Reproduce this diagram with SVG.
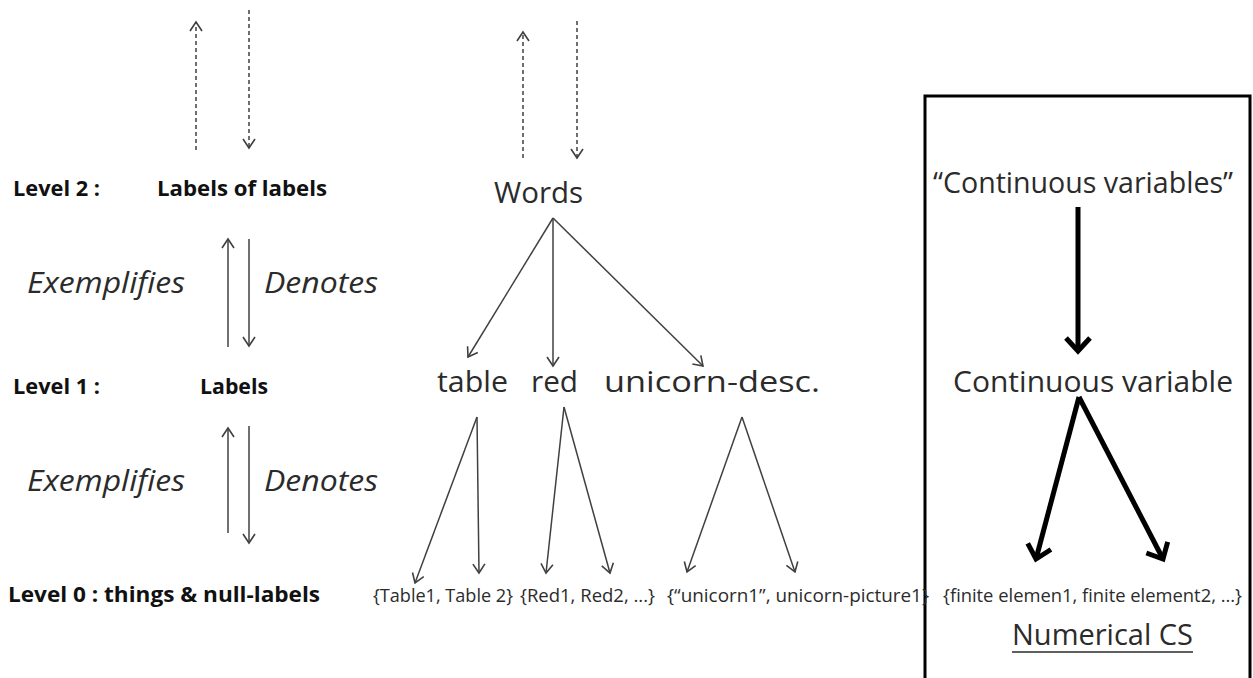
<svg xmlns="http://www.w3.org/2000/svg" width="1253" height="678" viewBox="0 0 1253 678">
<style>
text{font-family:"Open Sans","Noto Sans","Liberation Sans",sans-serif;fill:#2b2b2b}
.lvl{font-weight:bold;font-size:22px;fill:#111}
.rel{font-style:italic;font-size:30px}
.big{font-size:30px}
.sm{font-size:18.5px}
.thin{stroke:#404040;stroke-width:1.5;fill:none;marker-end:url(#ah)}
.dash{stroke-dasharray:4 3}
.thick{stroke:#000;stroke-width:5;fill:none;marker-end:url(#ahb)}
</style>
<defs>
<marker id="ah" markerUnits="userSpaceOnUse" markerWidth="20" markerHeight="20" viewBox="-10 -10 20 20" refX="0" refY="0" orient="auto" overflow="visible">
<path d="M-9,-6 L0,0 L-9,6" fill="none" stroke="#404040" stroke-width="1.6"/>
</marker>
<marker id="ahb" markerUnits="userSpaceOnUse" markerWidth="40" markerHeight="40" viewBox="-20 -20 40 40" refX="0" refY="0" orient="auto" overflow="visible">
<path d="M-13,-12 L0,0 L-13,12" fill="none" stroke="#000" stroke-width="5"/>
</marker>
</defs>

<g id="box"><rect x="925" y="96" width="325" height="620" fill="none" stroke="#000" stroke-width="3"/></g>

<g id="level2"><text class="lvl" x="13" y="196" textLength="87" lengthAdjust="spacingAndGlyphs">Level 2 :</text></g>
<g id="labels-of-labels"><text class="lvl" x="157" y="196" textLength="170" lengthAdjust="spacingAndGlyphs">Labels of labels</text></g>
<g id="words"><text class="big" x="494" y="203" textLength="89" lengthAdjust="spacingAndGlyphs">Words</text></g>
<g id="exemplifies1"><text class="rel" x="27" y="293" textLength="158" lengthAdjust="spacingAndGlyphs">Exemplifies</text></g>
<g id="denotes1"><text class="rel" x="264" y="293" textLength="114" lengthAdjust="spacingAndGlyphs">Denotes</text></g>
<g id="level1"><text class="lvl" x="13" y="394" textLength="87" lengthAdjust="spacingAndGlyphs">Level 1 :</text></g>
<g id="labels"><text class="lvl" x="200" y="394" textLength="68" lengthAdjust="spacingAndGlyphs">Labels</text></g>
<g id="table"><text class="big" x="437" y="392" textLength="71" lengthAdjust="spacingAndGlyphs">table</text></g>
<g id="red"><text class="big" x="531" y="392" textLength="47" lengthAdjust="spacingAndGlyphs">red</text></g>
<g id="unicorn-desc"><text class="big" x="604" y="392" textLength="216" lengthAdjust="spacingAndGlyphs">unicorn-desc.</text></g>
<g id="exemplifies2"><text class="rel" x="27" y="491" textLength="158" lengthAdjust="spacingAndGlyphs">Exemplifies</text></g>
<g id="denotes2"><text class="rel" x="264" y="491" textLength="114" lengthAdjust="spacingAndGlyphs">Denotes</text></g>
<g id="level0"><text class="lvl" x="8" y="602" textLength="312" lengthAdjust="spacingAndGlyphs">Level 0 : things &amp; null-labels</text></g>
<g id="tables"><text class="sm" x="373" y="602" textLength="140" lengthAdjust="spacingAndGlyphs">{Table1, Table 2}</text></g>
<g id="reds"><text class="sm" x="520" y="602" textLength="135" lengthAdjust="spacingAndGlyphs">{Red1, Red2, ...}</text></g>
<g id="unicorns"><text class="sm" x="667" y="602" textLength="262" lengthAdjust="spacingAndGlyphs">{“unicorn1”, unicorn-picture1}</text></g>
<g id="finite"><text class="sm" x="943" y="602" textLength="299" lengthAdjust="spacingAndGlyphs">{finite elemen1, finite element2, ...}</text></g>
<g id="cont-vars"><text class="big" x="933" y="193" textLength="300" lengthAdjust="spacingAndGlyphs">“Continuous variables”</text></g>
<g id="cont-var"><text class="big" x="953" y="392" textLength="280" lengthAdjust="spacingAndGlyphs">Continuous variable</text></g>
<g id="numerical-cs"><text class="big" x="1012" y="645" textLength="181" lengthAdjust="spacingAndGlyphs">Numerical CS</text>
<line x1="1012" y1="652" x2="1193" y2="652" stroke="#2b2b2b" stroke-width="1.5"/></g>

<g id="connectors">
<line class="thin dash" x1="196" y1="150" x2="196" y2="22"/>
<line class="thin dash" x1="249" y1="10" x2="249" y2="148"/>
<line class="thin dash" x1="523" y1="158" x2="523" y2="32"/>
<line class="thin dash" x1="577" y1="21" x2="577" y2="158"/>
<line class="thin" x1="228" y1="347" x2="228" y2="239"/>
<line class="thin" x1="249" y1="239" x2="249" y2="346"/>
<line class="thin" x1="228" y1="533" x2="228" y2="428"/>
<line class="thin" x1="249" y1="426" x2="249" y2="543"/>
<line class="thin" x1="553" y1="218" x2="468" y2="357"/>
<line class="thin" x1="553" y1="218" x2="553" y2="366"/>
<line class="thin" x1="553" y1="218" x2="703" y2="366"/>
<line class="thin" x1="477" y1="417" x2="415" y2="583"/>
<line class="thin" x1="477" y1="417" x2="479" y2="573"/>
<line class="thin" x1="564" y1="407" x2="546" y2="573"/>
<line class="thin" x1="564" y1="407" x2="610" y2="573"/>
<line class="thin" x1="742" y1="417" x2="687" y2="572"/>
<line class="thin" x1="742" y1="417" x2="795" y2="572"/>
<line class="thick" x1="1078" y1="207" x2="1078" y2="351"/>
<line class="thick" x1="1079" y1="397" x2="1036" y2="559"/>
<line class="thick" x1="1079" y1="397" x2="1163" y2="559"/>
</g>
</svg>
